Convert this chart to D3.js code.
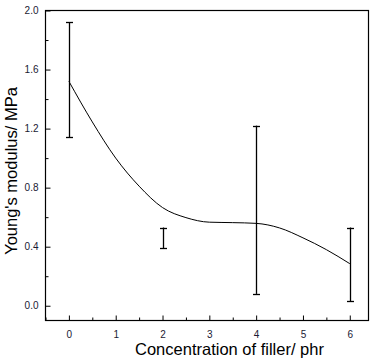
<!DOCTYPE html>
<html lang="en">
<head>
    <meta charset="UTF-8">
    <title>Young's modulus</title>
    <script src="https://cdn.jsdelivr.net/npm/d3@7"></script>
</head>
<style>
    body { margin: 0; background: #fff; }
    svg { display: block; }
</style>
<body>
    <div id="graphDiv"></div>

    <script>
        // measured points (mean, error) at each filler level
        var barX = [0, 2, 4, 6]
        var barMean = [1.53, 0.46, 0.65, 0.28]
        var barErr = [0.39, 0.07, 0.57, 0.25]

        // fitted curve
        var fitX = [0, 0.5, 1, 1.5, 2, 2.5, 3, 3.5, 4, 4.5, 5, 5.5, 6]
        var fitY = [1.52, 1.245, 1.0, 0.81, 0.665, 0.597, 0.566, 0.563, 0.558, 0.527, 0.46, 0.38, 0.285]

        var xTicks = [0, 1, 2, 3, 4, 5, 6]
        var yTicks = [0.0, 0.4, 0.8, 1.2, 1.6, 2.0]

        var width = 377
        var height = 359
        var padLeft = 45.5, padRight = 368.5, padTop = 10.5, padBottom = 320.5

        var svg = d3.select('#graphDiv')
                    .append('svg')
                    .attr('width', width)
                    .attr('height', height)

        var xScale = d3.scaleLinear()
                        .domain([-0.5, 6.4])
                        .range([padLeft, padRight])
        var yScale = d3.scaleLinear()
                        .domain([-0.1, 2.0])
                        .range([padBottom, padTop])

        // axes, ticks pointing inward
        var xMinor = d3.range(-0.5, 6.5, 0.5).filter(d => d % 1 !== 0)
        var yMinor = d3.range(0.2, 2.0, 0.4)

        svg.append('g')
            .attr('transform', 'translate(0,' + padBottom + ')')
            .call(d3.axisBottom(xScale).tickValues(xTicks).tickSize(-5).tickPadding(10).tickFormat(d3.format('d')))
        svg.append('g')
            .attr('transform', 'translate(' + padLeft + ',0)')
            .call(d3.axisLeft(yScale).tickValues(yTicks).tickSize(-5).tickPadding(7).tickFormat(d3.format('.1f')))

        svg.append('g')
            .attr('transform', 'translate(0,' + padBottom + ')')
            .call(d3.axisBottom(xScale).tickValues(xMinor).tickSize(-3).tickFormat(''))
        svg.append('g')
            .attr('transform', 'translate(' + padLeft + ',0)')
            .call(d3.axisLeft(yScale).tickValues(yMinor).tickSize(-3).tickFormat(''))

        svg.selectAll('.domain').remove()
        svg.selectAll('.tick line').attr('stroke', '#000')
        svg.selectAll('.tick text')
            .attr('font-family', 'Liberation Sans, Arial, sans-serif')
            .attr('font-size', 10)
            .attr('fill', '#1a1a33')

        // frame
        svg.append('rect')
            .attr('x', padLeft)
            .attr('y', padTop)
            .attr('width', padRight - padLeft)
            .attr('height', padBottom - padTop)
            .attr('fill', 'none')
            .attr('stroke', '#000')
            .attr('stroke-width', 1.2)

        // fitted curve
        var line = d3.line()
                    .x((d, i) => xScale(fitX[i]))
                    .y(d => yScale(d))
                    .curve(d3.curveMonotoneX)
        svg.append('path')
            .attr('d', line(fitY))
            .attr('fill', 'none')
            .attr('stroke', '#000')
            .attr('stroke-width', 1)

        // error bars
        var bars = svg.append('g')
                        .selectAll('g')
                        .data(barX)
                        .join('g')
                        .attr('stroke', '#000')
                        .attr('stroke-width', 1.3)
        bars.append('line')
            .attr('x1', d => Math.round(xScale(d)) + 0.5)
            .attr('x2', d => Math.round(xScale(d)) + 0.5)
            .attr('y1', (d, i) => yScale(barMean[i] + barErr[i]))
            .attr('y2', (d, i) => yScale(barMean[i] - barErr[i]))
        bars.selectAll('.cap')
            .data((d, i) => [[d, barMean[i] + barErr[i]], [d, barMean[i] - barErr[i]]])
            .join('line')
            .attr('class', 'cap')
            .attr('x1', d => Math.round(xScale(d[0])) - 3)
            .attr('x2', d => Math.round(xScale(d[0])) + 4)
            .attr('y1', d => Math.round(yScale(d[1])) + 0.5)
            .attr('y2', d => Math.round(yScale(d[1])) + 0.5)

        // axis titles
        svg.append('text')
            .attr('x', 229.5)
            .attr('y', 355)
            .attr('text-anchor', 'middle')
            .attr('font-family', 'Liberation Sans, Arial, sans-serif')
            .attr('font-size', 16.5)
            .attr('fill', '#000')
            .text('Concentration of filler/ phr')

        svg.append('text')
            .attr('transform', 'translate(16.5,171) rotate(-90)')
            .attr('text-anchor', 'middle')
            .attr('font-family', 'Liberation Sans, Arial, sans-serif')
            .attr('font-size', 16.5)
            .attr('fill', '#000')
            .text("Young's modulus/ MPa")
    </script>
</body>
</html>
